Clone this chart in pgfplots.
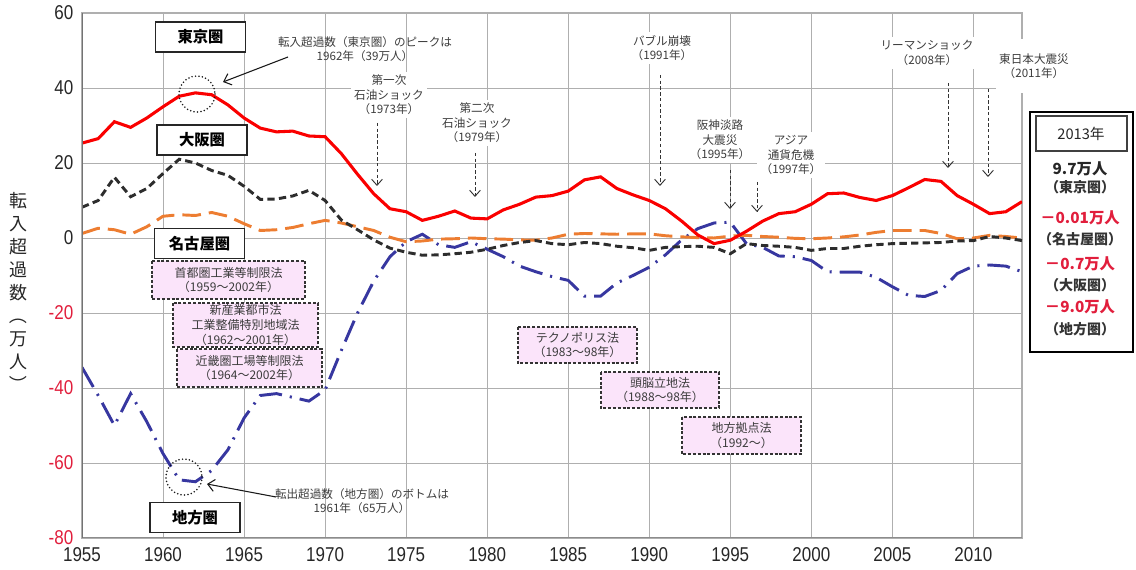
\documentclass[border=0pt]{standalone}
\usepackage{fontspec}
\usepackage{graphicx}
\usepackage{pgfplots}
\usepackage{pgfplotstable}
\pgfplotsset{compat=1.18}
\usetikzlibrary{arrows.meta}
\setmainfont{Liberation Sans}
\newfontfamily\jp{Noto Sans CJK JP}
\newfontfamily\tk[FakeStretch=0.85]{Liberation Sans}
\definecolor{tokyo}{RGB}{250,0,0}
\definecolor{osaka}{RGB}{45,45,45}
\definecolor{nagoya}{RGB}{237,125,49}
\definecolor{chiho}{RGB}{55,55,160}
\definecolor{negred}{RGB}{225,30,60}
\definecolor{pinkbox}{RGB}{251,228,250}
\definecolor{annot}{RGB}{60,60,60}
\definecolor{gridc}{RGB}{175,175,175}

\pgfplotstableread{
year tokyo osaka nagoya chiho
1955 25.3 8.2 1.2 -34.5
1956 26.5 10.0 2.6 -42
1957 31.0 16.2 2.2 -50
1958 29.5 11.0 1.0 -41.5
1959 32.0 13.2 3.0 -49
1960 35.0 17.2 5.8 -57.5
1961 37.8 21.0 6.2 -64.5
1962 38.7 20.0 6.0 -65
1963 38.2 18.0 6.8 -62
1964 35.5 16.7 5.8 -56.5
1965 32.0 13.8 3.8 -48
1966 29.3 10.3 2.0 -42
1967 28.3 10.4 2.2 -41.5
1968 28.5 11.2 2.8 -42.5
1969 27.2 12.7 3.8 -43.5
1970 27.0 10.0 4.7 -40.5
1971 22.5 4.8 4.0 -30
1972 17.0 2.2 3.0 -20
1973 11.8 -0.5 2.0 -11.5
1974 7.8 -2.7 0.2 -5
1975 7.0 -3.8 -1.0 -1
1976 4.7 -4.6 -0.8 1
1977 5.8 -4.5 -0.3 -1.8
1978 7.2 -4.2 -0.2 -2.5
1979 5.3 -3.8 0.0 -1
1980 5.1 -3.0 -0.2 -3
1981 7.5 -2.0 -0.3 -5
1982 9.0 -1.2 -0.5 -7.5
1983 10.9 -0.7 -0.6 -9
1984 11.3 -1.5 0.0 -10.3
1985 12.5 -1.8 1.0 -11.3
1986 15.5 -1.2 1.2 -15.5
1987 16.3 -1.5 1.1 -15.5
1988 13.2 -2.2 1.0 -12
1989 11.5 -2.6 1.1 -10
1990 10.0 -3.3 1.1 -7.8
1991 7.8 -2.5 0.6 -4.5
1992 4.5 -2.3 0.3 -0.5
1993 0.8 -2.2 0.1 2.5
1994 -1.5 -2.5 0.0 4.0
1995 -0.6 -4.2 0.5 4.2
1996 1.8 -1.5 0.7 -1.5
1997 4.5 -2.0 0.4 -2.5
1998 6.5 -2.2 0.2 -4.8
1999 7.0 -2.5 -0.1 -5
2000 9.0 -3.3 -0.2 -6
2001 11.8 -2.8 0.0 -9
2002 12.0 -2.8 0.3 -9.1
2003 10.8 -2.2 0.8 -9.1
2004 10.0 -1.8 1.5 -10.5
2005 11.3 -1.5 2.0 -13
2006 13.4 -1.4 2.0 -15.3
2007 15.6 -1.3 2.0 -15.6
2008 15.1 -1.2 1.2 -14
2009 11.3 -0.8 -0.2 -9.5
2010 9.0 -0.7 0.0 -7.5
2011 6.5 0.4 0.7 -7.2
2012 7.0 0.0 0.4 -7.5
2013 9.7 -0.7 -0.01 -9.0
}\migration

\begin{document}
\begin{tikzpicture}
\path[use as bounding box] (0,0) rectangle (852pt,427.5pt);
\begin{axis}[
  scale only axis, width=705pt, height=393.75pt,
  at={(61.5pt,24pt)}, anchor=south west,
  xmin=1955, xmax=2013, ymin=-80, ymax=60,
  xtick={1955,1960,...,2010},
  xticklabels={1955,1960,1965,1970,1975,1980,1985,1990,1995,2000,2005,2010},
  ytick={-80,-60,...,60},
  yticklabels={{\color{negred}-80},{\color{negred}-60},{\color{negred}-40},{\color{negred}-20},0,20,40,60},
  tick label style={font=\tk\fontsize{15}{15}\selectfont, text=black!85},
  xticklabel style={yshift=-3.5pt},
  yticklabel style={xshift=-3pt},
  major tick length=0pt,
  grid=major,
  major grid style={gridc, line width=0.6pt},
  axis line style={gridc, line width=0.9pt},
]
\addplot[chiho, line width=2.2pt, dash pattern=on 17pt off 6pt on 1.6pt off 6pt] table[x=year,y=chiho] {\migration};
\addplot[nagoya, line width=2.2pt, dash pattern=on 14pt off 6pt] table[x=year,y=nagoya] {\migration};
\addplot[osaka, line width=2.2pt, dash pattern=on 5.5pt off 3.2pt] table[x=year,y=osaka] {\migration};
\addplot[tokyo, line width=2.3pt] table[x=year,y=tokyo] {\migration};
\draw[black!45, line width=1.8pt] (axis cs:1955,-80) -- (axis cs:2013,-80);
\draw[black!55, line width=1.2pt] (axis cs:1955,-80) -- (axis cs:1955,60);
\end{axis}

\begin{scope}[x=0.75pt, y=-0.75pt, yshift=427.5pt]
\tikzset{
  lbl/.style={draw=black!85, line width=0.9pt, fill=white, font=\jp\bfseries\fontsize{11.5}{13}\selectfont, minimum width=67.5pt, minimum height=22.5pt, inner sep=0pt},
  pkbox/.style={draw=black!80, line width=0.9pt, dash pattern=on 2.2pt off 1.4pt, fill=pinkbox},
  pktext/.style={font=\jp\fontsize{9}{11}\selectfont, align=center, inner sep=0pt, text=annot},
  ann/.style={font=\jp\fontsize{8.7}{10.8}\selectfont, text=annot, align=center, fill=white, inner sep=2.5pt},
  ann0/.style={font=\jp\fontsize{8.7}{10.8}\selectfont, text=annot, align=center, inner sep=1pt},
  darr/.style={black!80, line width=0.7pt, dash pattern=on 2.5pt off 1.8pt, -{Straight Barb[length=4.5pt,width=8pt]}},
  sarr/.style={black!90, line width=0.8pt, -{Straight Barb[length=5pt,width=9pt]}},
  circ/.style={black!90, line width=1.3pt, dash pattern=on 0pt off 2.6pt, line cap=round}
}
% y axis label
\node[font=\jp\fontsize{13.5}{17.3}\selectfont, align=center, text=black!85, inner sep=0pt] at (18,293) {転\\入\\超\\過\\数\\\rotatebox[origin=c]{-90}{（}\\万\\人\\\rotatebox[origin=c]{-90}{）}};

% region labels
\node[lbl] at (200.5,37) {東京圏};
\node[lbl] at (202,140) {大阪圏};
\node[lbl] at (199.5,243.5) {名古屋圏};
\node[lbl] at (195,517.5) {地方圏};

% pink law boxes
\draw[pkbox] (152,261) rectangle (305,299);
\node[pktext] at (228.5,280) {首都圏工業等制限法\\（1959～2002年）};
\draw[pkbox] (173,303) rectangle (318,347);
\node[pktext] at (245.5,325) {新産業都市法\\工業整備特別地域法\\（1962～2001年）};
\draw[pkbox] (177,349) rectangle (322,387);
\node[pktext] at (249.5,368) {近畿圏工場等制限法\\（1964～2002年）};
\draw[pkbox] (518,327) rectangle (637,363);
\node[pktext] at (577.5,345) {テクノポリス法\\（1983～98年）};
\draw[pkbox] (601,372) rectangle (719,408);
\node[pktext] at (660,390) {頭脳立地法\\（1988～98年）};
\draw[pkbox] (682,417) rectangle (801,454);
\node[pktext] at (741.5,435.5) {地方拠点法\\（1992～）};

% peak / bottom annotations
\draw[circ] (197,94) circle (18);
\draw[circ] (184,477) circle (18);
\node[ann0] at (365,49) {転入超過数（東京圏）のピークは\\1962年（39万人）};
\draw[sarr] (288,57) -- (223,82);
\node[ann0] at (362,501) {転出超過数（地方圏）のボトムは\\1961年（65万人）};
\draw[sarr] (276,497) -- (207,484);

% events
\node[ann] at (389,95) {第一次\\石油ショック\\（1973年）};
\draw[darr] (377,123) -- (377,186);
\node[ann] at (477,123) {第二次\\石油ショック\\（1979年）};
\draw[darr] (475,153) -- (475,197);
\node[ann] at (662,48) {バブル崩壊\\（1991年）};
\draw[darr] (660,75) -- (660,186);
\node[ann] at (720,140) {阪神淡路\\大震災\\（1995年）};
\draw[darr] (730,170) -- (730,209);
\node[ann] at (791,155) {アジア\\通貨危機\\（1997年）};
\draw[darr] (757,182) -- (757,212);
\node[ann] at (927,53) {リーマンショック\\（2008年）};
\draw[darr] (948,83) -- (948,168);
\node[ann, minimum height=40pt] at (1034,66) {東日本大震災\\（2011年）};
\draw[darr] (988,89) -- (988,177);

% 2013 box
\draw[black, line width=1.7pt] (1030,112) rectangle (1133,352);
\draw[black!75, line width=0.8pt] (1036,116) rectangle (1127,151);
\node[font=\jp\fontsize{11}{12}\selectfont, text=black!85] at (1081,133.5) {2013年};
\node[font=\jp\bfseries\fontsize{11.5}{12}\selectfont, text=black!85] at (1080,169) {9.7万人};
\node[font=\jp\bfseries\fontsize{10.5}{12}\selectfont, text=black!80] at (1080,187) {（東京圏）};
\node[font=\jp\bfseries\fontsize{11.5}{12}\selectfont, text=negred] at (1080,218) {－0.01万人};
\node[font=\jp\bfseries\fontsize{10.5}{12}\selectfont, text=black!80] at (1080,239) {（名古屋圏）};
\node[font=\jp\bfseries\fontsize{11.5}{12}\selectfont, text=negred] at (1080,264) {－0.7万人};
\node[font=\jp\bfseries\fontsize{10.5}{12}\selectfont, text=black!80] at (1080,285) {（大阪圏）};
\node[font=\jp\bfseries\fontsize{11.5}{12}\selectfont, text=negred] at (1080,307) {－9.0万人};
\node[font=\jp\bfseries\fontsize{10.5}{12}\selectfont, text=black!80] at (1080,329) {（地方圏）};
\end{scope}
\end{tikzpicture}
\end{document}
